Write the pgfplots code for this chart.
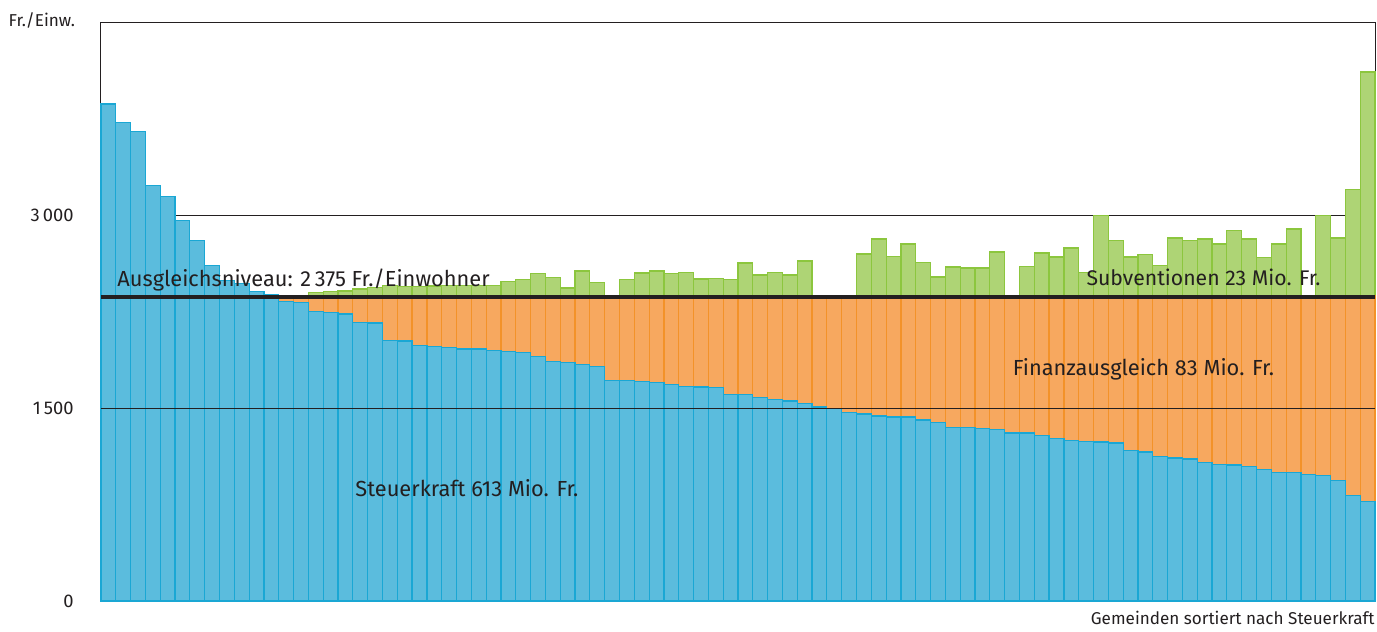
\documentclass[border=0pt]{standalone}
\usepackage{pgfplots}
\pgfplotsset{compat=1.18}
\usepackage{pgfplotstable}
\usepackage{fontspec}
\setmainfont{Fira Sans}

\definecolor{sblue}{HTML}{5BBCDD}
\definecolor{sblueD}{HTML}{1AA7D4}
\definecolor{forange}{HTML}{F7A85F}
\definecolor{forangeD}{HTML}{F39229}
\definecolor{sgreen}{HTML}{AED475}
\definecolor{sgreenD}{HTML}{8CC63E}
\definecolor{txt}{HTML}{231F20}

% x = Gemeinde (sortiert), s = Steuerkraft, o = Ausgleichsniveau, g = mit Subventionen
\pgfplotstableread{
x s o g
0.5 3863 nan nan
1.5 3720 nan nan
2.5 3647 nan nan
3.5 3230 nan nan
4.5 3145 nan nan
5.5 2958 nan nan
6.5 2800 nan nan
7.5 2606 nan nan
8.5 2490 nan nan
9.5 2470 nan nan
10.5 2406 nan nan
11.5 2380 nan nan
12.5 2329 2375 nan
13.5 2321 2375 nan
14.5 2251 2375 2398
15.5 2240 2375 2405
16.5 2230 2375 2410
17.5 2165 2375 2425
18.5 2160 2375 2435
19.5 2023 2375 2450
20.5 2020 2375 2445
21.5 1984 2375 2445
22.5 1979 2375 2448
23.5 1969 2375 2450
24.5 1958 2375 2450
25.5 1958 2375 2452
26.5 1945 2375 2455
27.5 1940 2375 2484
28.5 1932 2375 2497
29.5 1901 2375 2544
30.5 1860 2375 2515
31.5 1855 2375 2433
32.5 1837 2375 2565
33.5 1824 2375 2476
34.5 1715 2375 nan
35.5 1715 2375 2497
36.5 1707 2375 2549
37.5 1699 2375 2565
38.5 1684 2375 2544
39.5 1668 2375 2554
40.5 1663 2375 2503
41.5 1658 2375 2505
42.5 1603 2375 2497
43.5 1603 2375 2627
44.5 1582 2375 2534
45.5 1564 2375 2554
46.5 1554 2375 2534
47.5 1536 2375 2642
48.5 1508 2375 nan
49.5 1495 2375 nan
50.5 1463 2375 nan
51.5 1453 2375 2697
52.5 1438 2375 2813
53.5 1430 2375 2678
54.5 1430 2375 2775
55.5 1407 2375 2632
56.5 1388 2375 2518
57.5 1347 2375 2596
58.5 1347 2375 2588
59.5 1342 2375 2588
60.5 1334 2375 2712
61.5 1306 2375 nan
62.5 1305 2375 2601
63.5 1285 2375 2704
64.5 1261 2375 2673
65.5 1246 2375 2744
66.5 1241 2375 2554
67.5 1236 2375 2998
68.5 1228 2375 2800
69.5 1171 2375 2673
70.5 1158 2375 2691
71.5 1122 2375 2606
72.5 1111 2375 2821
73.5 1104 2375 2800
74.5 1077 2375 2813
75.5 1059 2375 2775
76.5 1057 2375 2880
77.5 1046 2375 2813
78.5 1020 2375 2670
79.5 999 2375 2775
80.5 997 2375 2891
81.5 982 2375 nan
82.5 975 2375 2994
83.5 937 2375 2821
84.5 817 2375 3201
85.5 772 2375 4111
}\gemeinden

\begin{document}
\begin{tikzpicture}
\path[use as bounding box] (-50.5pt,-15.5pt) rectangle (638pt,300.5pt);
\begin{axis}[
   at={(0,0)}, anchor=south west,
   scale only axis,
   width=637pt, height=289.5pt,
   xmin=0, xmax=86, ymin=0, ymax=4500,
   clip=false,
   axis line style={draw=txt, line width=0.5pt},
   xtick=\empty,
   ytick={0,1500,3000},
   yticklabels={0,1\,500,3\,000},
   major tick length=0pt,
   yticklabel style={anchor=east, inner sep=0pt, xshift=-13.5pt,
      font=\fontsize{9.2}{11}\selectfont, text=txt},
   every axis plot/.append style={line join=miter},
 ]
   % Gitterlinie 3000 liegt hinter den Balken
   \addplot[draw=txt, line width=0.5pt] coordinates {(0,3000) (86,3000)};

   \addplot[ybar, bar width=1, bar shift=0pt, fill=sgreen, draw=sgreenD, line width=0.6pt]
      table[x=x, y=g] {\gemeinden};
   \addplot[ybar, bar width=1, bar shift=0pt, fill=forange, draw=forangeD, line width=0.6pt]
      table[x=x, y=o] {\gemeinden};
   \addplot[ybar, bar width=1, bar shift=0pt, fill=sblue, draw=sblueD, line width=0.6pt]
      table[x=x, y=s] {\gemeinden};

   % 1500 liegt vor den Balken
   \addplot[draw=txt, line width=0.5pt] coordinates {(0,1500) (86,1500)};
   % Ausgleichsniveau
   \addplot[draw=txt, line width=2pt] coordinates {(0,2365) (86,2365)};

   \node[anchor=base west, font=\fontsize{10.9}{12}\selectfont, text=txt, inner sep=0pt]
      at (axis cs:1.08,2445) {Ausgleichsniveau: 2\,375 Fr./Einwohner};
   \node[anchor=base west, font=\fontsize{10.6}{12}\selectfont, text=txt, inner sep=0pt]
      at (axis cs:66.5,2453) {Subventionen 23 Mio. Fr.};
   \node[anchor=base west, font=\fontsize{10.9}{12}\selectfont, text=txt, inner sep=0pt]
      at (axis cs:61.53,1751) {Finanzausgleich 83 Mio. Fr.};
   \node[anchor=base west, font=\fontsize{10.9}{12}\selectfont, text=txt, inner sep=0pt]
      at (axis cs:17.15,811) {Steuerkraft 613 Mio. Fr.};
   \node[anchor=base west, font=\fontsize{8.6}{10}\selectfont, text=txt, inner sep=0pt]
      at (axis cs:-6.26,4466) {Fr./Einw.};
   \node[anchor=base east, font=\fontsize{8.55}{10}\selectfont, text=txt, inner sep=0pt]
      at (axis cs:86,-179) {Gemeinden sortiert nach Steuerkraft};
\end{axis}
\end{tikzpicture}
\end{document}
